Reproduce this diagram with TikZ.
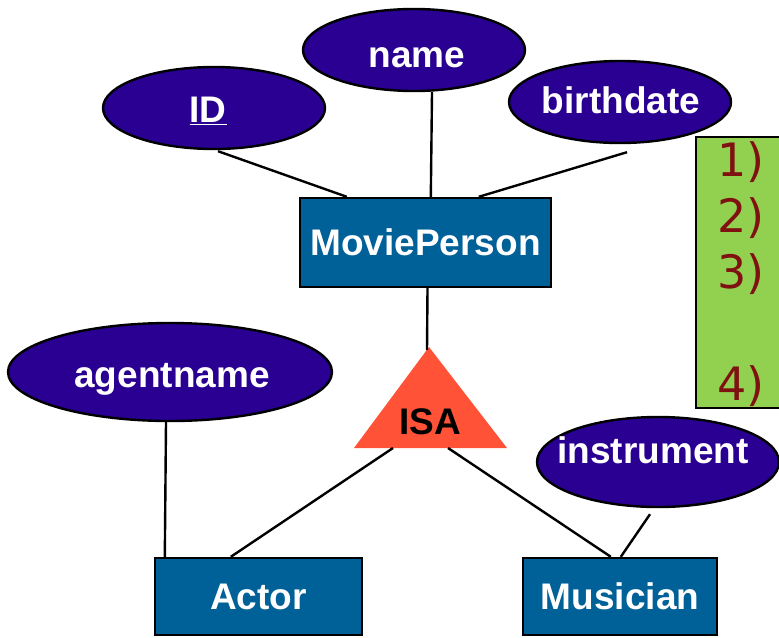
\documentclass[tikz,border=0pt]{standalone}
\usepackage{fontspec}
\setmainfont{Liberation Sans}
\newfontfamily\numfont{DejaVu Sans}
\usetikzlibrary{shapes.geometric,calc}
\definecolor{attrfill}{HTML}{290091}
\definecolor{entfill}{HTML}{006199}
\definecolor{isafill}{HTML}{FF5236}
\definecolor{notefill}{HTML}{92D050}
\definecolor{notetext}{HTML}{7F1111}
\begin{document}
\begin{tikzpicture}[x=0.5pt,y=-0.5pt,
  labelfont/.style={font=\bfseries\fontsize{18.5}{20}\selectfont},
  attr/.style={ellipse, draw=black, line width=1.2pt, fill=attrfill, inner sep=0pt},
  attrtext/.style={anchor=base, inner sep=0pt, text=white, labelfont},
  entity/.style={rectangle, draw=black, line width=1.2pt, fill=entfill, text=white, labelfont, inner sep=0pt},
  link/.style={line width=1.2pt},
  numtext/.style={anchor=base west, inner sep=0pt, text=notetext, font=\numfont\fontsize{23}{26}\selectfont}]
\useasboundingbox (0,0) rectangle (779,637);

% note panel on the right edge
\draw[fill=notefill, line width=0.9pt] (696,137) rectangle (800,408);
\node[numtext] (n1) at (717,176) {1)};
\node[numtext] (n2) at (717,232) {2)};
\node[numtext] (n3) at (717,288) {3)};
\node[numtext] (n4) at (717,400) {4)};

% entities
\node[entity, minimum width=125.5pt, minimum height=44.5pt] (mp) at (425.5,242.5) {MoviePerson};
\node[entity, minimum width=103.5pt, minimum height=38.5pt] (actor) at (258.5,596.5) {Actor};
\node[entity, minimum width=97pt, minimum height=38.5pt] (musician) at (620,596.5) {Musician};

% attributes
\node[attr, minimum width=111pt, minimum height=41pt] (id) at (214,108) {};
\node[attrtext] (idtext) at (208,122) {\underline{ID}};
\node[attr, minimum width=111pt, minimum height=41pt] (name) at (414,50) {};
\node[attrtext] (nametext) at (417,67) {name};
\node[attr, minimum width=111pt, minimum height=41pt] (birth) at (620,102) {};
\node[attrtext] (birthtext) at (621,113) {birthdate};
\node[attr, minimum width=162pt, minimum height=49pt] (agent) at (170,372) {};
\node[attrtext] (agenttext) at (172,387) {agentname};
\node[attr, minimum width=121pt, minimum height=45pt] (instr) at (658,462) {};
\node[attrtext] (instrtext) at (653,463) {instrument};

% ISA triangle
\coordinate (isatop) at (429,347);
\coordinate (isabl) at (354,448);
\coordinate (isabr) at (507,448);
\coordinate (isaleft) at (393,448);
\coordinate (isaright) at (448,448);
\fill[isafill] (isatop) -- (isabr) -- (isabl) -- cycle;
\node[labelfont, anchor=base, text=black, inner sep=0pt] (isa) at (430,434) {ISA};

% connectors
\draw[link] ($(id.south)+(4,1)$) -- ($(mp.north west)+(48,0)$);
\draw[link] ($(name.south)+(18,0)$) -- ($(mp.north west)+(132,0)$);
\draw[link] ($(birth.south)+(7,8)$) -- ($(mp.north west)+(180,0)$);
\draw[link] ($(mp.south)+(2,0)$) -- ($(isatop)+(-2,3)$);
\draw[link] (isaleft) -- ($(actor.north west)+(77,0)$);
\draw[link] (isaright) -- ($(musician.north west)+(89,0)$);
\draw[link] ($(agent.south)+(-4,0)$) -- ($(actor.north west)+(11,0)$);
\draw[link] ($(instr.south)+(-8,6)$) -- ($(musician.north west)+(99,0)$);
\end{tikzpicture}
\end{document}
